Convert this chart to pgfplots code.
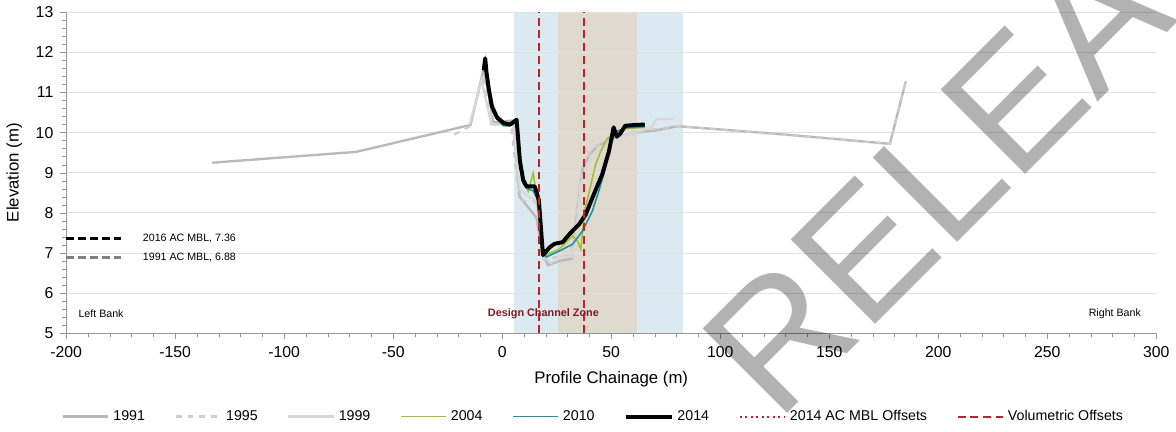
\documentclass[border=0pt]{standalone}
\usepackage{pgfplots}
\pgfplotsset{compat=1.18}
\usepackage{fontspec}
\setmainfont{Liberation Sans}

\definecolor{gridgray}{RGB}{226,226,226}
\definecolor{axisgray}{RGB}{150,150,150}
\definecolor{zoneblue}{RGB}{219,234,240}
\definecolor{zonetan}{RGB}{224,218,206}
\definecolor{c1991}{RGB}{185,185,185}
\definecolor{c1995}{RGB}{205,205,205}
\definecolor{c1999}{RGB}{215,215,215}
\definecolor{c2004}{RGB}{160,194,40}
\definecolor{c2010}{RGB}{28,145,166}
\definecolor{offred}{RGB}{196,32,42}
\definecolor{zonetext}{RGB}{125,25,35}

\begin{document}
\begin{tikzpicture}
\begin{axis}[
    set layers,
    scale only axis,
    width=552.5pt, height=162.8pt,
    xmin=-200, xmax=300, ymin=5, ymax=13,
    xtick={-200,-150,...,300},
    ytick={5,6,...,13},
    minor tick num=4,
    axis x line*=bottom, axis y line*=left,
    axis line style={axisgray},
    tick style={axisgray},
    tick align=outside,
    major tick length=3pt, minor tick length=2pt,
    xmajorgrids=false,
    ymajorgrids=true,
    major grid style={draw=gridgray, line width=0.5pt},
    /pgf/number format/assume math mode=true,
    tick label style={font=\fontsize{8}{9.6}\selectfont},
    label style={font=\fontsize{8.5}{10}\selectfont},
    xlabel={Profile Chainage (m)},
    ylabel={Elevation (m)},
    legend columns=8,
    legend cell align=left,
    legend image code/.code={\draw[#1] (0pt,0pt) -- (23pt,0pt);},
    legend style={draw=none, fill=none, at={(0.4845,-0.259)}, anchor=center,
        font=\fontsize{7.2}{8.6}\selectfont,
        /tikz/every even column/.append style={column sep=13pt}},
]

% zones
\addplot[forget plot, draw=none, fill=zoneblue, on layer=axis background]
    coordinates {(5.6,5)(82.8,5)(82.8,13)(5.6,13)} -- cycle;
\addplot[forget plot, draw=none, fill=zonetan, on layer=axis background]
    coordinates {(25.5,5)(61.7,5)(61.7,13)(25.5,13)} -- cycle;
% dotted level line at 10 m
\addplot[forget plot, gridgray!80!gray, line width=0.5pt, dash pattern=on 1.5pt off 1.5pt, on layer=axis background]
    coordinates {(-200,10)(300,10)};

% surveys
\addplot[c1991, line width=1.2pt] coordinates {
(-133,9.25)(-67,9.52)(-14.5,10.19)(-8.5,11.6)(-4,10.26)(5,10.3)(8,8.4)(15.7,7.88)
(18.5,7.0)(21,6.7)(26,6.8)(32,6.86)(33,7.3)(35.3,8.5)(37,9.1)(40,9.45)(44,9.68)
(48,9.78)(52,9.85)(60,10.0)(70,10.05)(80.6,10.16)(130,9.95)(177.8,9.72)(185.1,11.27)
};
\addlegendentry{1991}
\addplot[c1995, line width=1.1pt, dash pattern=on 3pt off 3pt] coordinates {
(-22,9.95)(-15,10.15)(-9,11.4)(-4,10.2)(4,10.25)(7,8.7)(9.6,8.3)(14,8.3)(17,8.2)
(19,6.85)(25,6.9)(31,6.95)(34,8.0)(36,8.9)(40,9.5)(46,9.75)(55,9.9)(65,10.05)
(80.6,10.16)(130,9.95)(177.8,9.72)(185.1,11.27)
};
\addlegendentry{1995}
\addplot[c1999, line width=1.1pt] coordinates {
(-15,10.2)(-9.5,11.3)(-5,10.2)(5,10.2)(8,8.6)(12,8.4)(16,8.3)(18,7.0)(22,6.75)
(28,6.9)(32,6.9)(34,7.6)(36,8.7)(40,9.3)(46,9.65)(55,9.9)(66,10.1)(68.5,10.13)
(70.7,10.33)(79,10.35)
};
\addlegendentry{1999}
\addplot[c2004, line width=0.8pt] coordinates {
(-8.5,11.5)(-7.8,11.8)(-6.2,11.1)(-4.7,10.65)(-2.4,10.4)(0,10.3)(3.6,10.2)(6.6,10.3)
(8.1,9.1)(10.4,8.78)(11.9,8.54)(14.2,8.99)(15.7,8.45)(17.2,7.64)(19.5,6.94)(26.2,7.1)
(32.3,7.43)(34.5,7.3)(36,7.1)(38,8.1)(39.8,8.5)(42.8,9.2)(45.1,9.52)(48.1,9.85)
(50,9.92)(56.4,10.1)(65.4,10.13)
};
\addlegendentry{2004}
\addplot[c2010, line width=0.8pt] coordinates {
(-8,11.5)(-7.5,11.8)(-6.2,11.1)(-4.7,10.65)(-2.4,10.33)(0.6,10.17)(3.6,10.17)(6.6,10.28)
(8.1,9.2)(9.6,8.75)(11.1,8.62)(14.2,8.55)(16.5,8.3)(18.2,7.2)(20.2,6.9)(26.2,7.05)
(32.3,7.22)(36.8,7.55)(41.3,8.04)(44.3,8.54)(47.3,9.11)(49.6,9.68)(51.9,10.01)
(56.4,10.12)(65.4,10.15)
};
\addlegendentry{2010}
\addplot[black, line width=2pt, line join=round] coordinates {
(-8.5,11.55)(-7.8,11.85)(-7.2,11.5)(-6.2,11.1)(-4.7,10.65)(-2.4,10.38)(0.6,10.24)
(3.6,10.2)(6.6,10.32)(8.1,9.3)(9.6,8.82)(11.1,8.66)(14.9,8.66)(16.8,8.32)(18.7,6.95)
(21.7,7.14)(24,7.23)(27.7,7.27)(30.8,7.47)(35.3,7.72)(38.3,7.96)(41.3,8.37)(45.8,8.95)
(48.9,9.52)(51.1,10.13)(52.6,9.9)(54.1,9.97)(56.4,10.17)(60.9,10.19)(65.4,10.2)
};
\addlegendentry{2014}

% offsets
\addlegendimage{offred, line width=1pt, dash pattern=on 1pt off 1.8pt}
\addlegendentry{2014 AC MBL Offsets}
\addplot[offred, line width=1pt, dash pattern=on 4pt off 2.5pt] coordinates {(16.7,5)(16.7,13)};
\addlegendentry{Volumetric Offsets}
\addplot[forget plot, offred, line width=1pt, dash pattern=on 4pt off 2.5pt] coordinates {(37.6,5)(37.6,13)};

% MBL markers
\addplot[forget plot, black, line width=1.4pt, dash pattern=on 4pt off 2pt] coordinates {(-200,7.36)(-174.5,7.36)};
\addplot[forget plot, gray, line width=1.4pt, dash pattern=on 4pt off 2pt] coordinates {(-200,6.88)(-174.5,6.88)};

\node[anchor=west, font=\fontsize{5.4}{6.5}\selectfont] at (axis cs:-168,7.36) {2016 AC MBL, 7.36};
\node[anchor=west, font=\fontsize{5.4}{6.5}\selectfont] at (axis cs:-168,6.88) {1991 AC MBL, 6.88};
\node[font=\fontsize{5.4}{6.5}\selectfont] at (axis cs:-184,5.5) {Left Bank};
\node[font=\fontsize{5.4}{6.5}\selectfont] at (axis cs:281,5.5) {Right Bank};
\node[font=\fontsize{5.5}{6.5}\selectfont\bfseries, text=zonetext] at (axis cs:18.9,5.5) {Design Channel Zone};

\coordinate (wm) at (axis cs:126,2.75);
\end{axis}
\node[overlay, rotate=45, anchor=base west, inner sep=0pt, text=black, text opacity=0.3,
      font=\fontsize{88}{88}\selectfont] at (wm) {RELEASED};
\end{tikzpicture}
\end{document}
